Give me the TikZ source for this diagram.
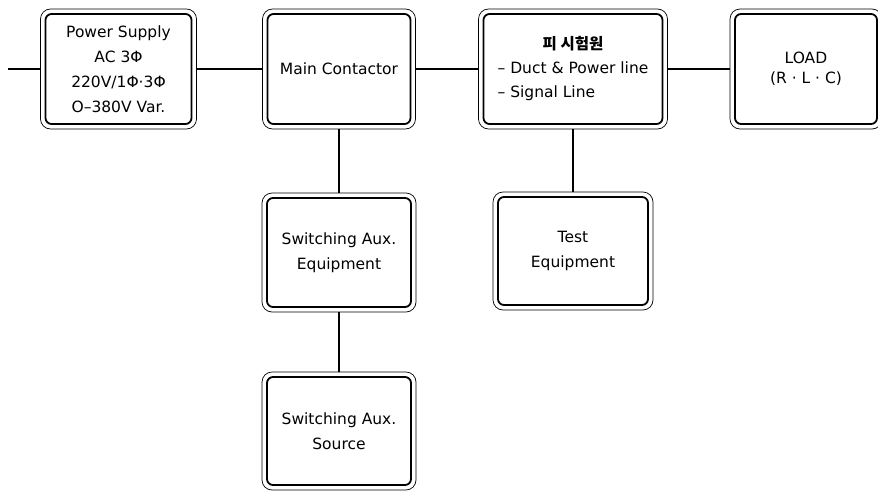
\documentclass[tikz,border=0pt]{standalone}
\usepackage{fontspec}
\setmainfont{DejaVu Sans}
\newfontfamily\cjk{Noto Sans CJK KR}
\begin{document}
\begin{tikzpicture}[x=1pt, y=-1pt,
    unit/.style={draw, line width=1.8pt, rounded corners=6pt, outer sep=5pt, inner sep=2pt,
        align=center, minimum width=146pt, minimum height=110pt,
        font=\fontsize{15.5}{25}\selectfont},
    rim/.style={line width=0.7pt, rounded corners=10pt},
    wire/.style={line width=1.6pt}]
    \clip (0,0) rectangle (878,490);
    \node[unit] (ps) at (118.5,69) {Power Supply\\AC 3Φ\\220V/1Φ·3Φ\\O–380V Var.};
    \node[unit, minimum width=143pt] (mc) at (339,69) {Main Contactor};
    \node[unit, minimum width=179pt, font=\fontsize{15.5}{24}\selectfont] (dut) at (573,69)
        {\begin{tabular}{@{}l@{}}\multicolumn{1}{@{}c@{}}{\cjk\bfseries 피 시험원}\\– Duct \& Power line\\– Signal Line\end{tabular}};
    \node[unit, minimum width=142pt, font=\fontsize{15.5}{20}\selectfont] (load) at (806,69) {LOAD\\(R · L · C)};
    \node[unit, minimum width=144pt, minimum height=109pt] (aux) at (339,252.5) {Switching Aux.\\Equipment};
    \node[unit, minimum width=144pt, minimum height=108pt] (src) at (339,431) {Switching Aux.\\Source};
    \node[unit, minimum width=150pt, minimum height=108pt] (test) at (573,251) {Test\\Equipment};
    \coordinate (in) at (8,69);
    \foreach \n in {ps,mc,dut,load,aux,src,test}
        \draw[rim] (\n.north west) rectangle (\n.south east);
    \draw[wire] (in) -- (ps);
    \foreach \a/\b in {ps/mc, mc/dut, dut/load, mc/aux, aux/src, dut/test}
        \draw[wire] (\a) -- (\b);
\end{tikzpicture}
\end{document}
